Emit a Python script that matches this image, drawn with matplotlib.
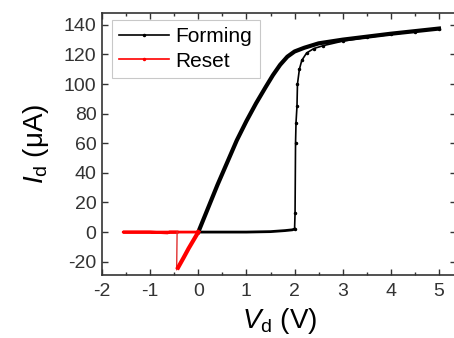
import matplotlib
matplotlib.use("Agg")
import matplotlib.pyplot as plt
from matplotlib.ticker import MultipleLocator

plt.rcParams['font.family'] = ['Liberation Sans', 'DejaVu Sans']
plt.rcParams['mathtext.fontset'] = 'custom'
plt.rcParams['mathtext.rm'] = 'Liberation Sans'
plt.rcParams['mathtext.it'] = 'Liberation Sans:italic'
plt.rcParams['axes.unicode_minus'] = False

# Forming sweep: forward 0 -> 5 V
form_fwd_v = [0.0, 0.5, 1.0, 1.5, 1.8, 1.95, 2.0, 2.01, 2.02, 2.03, 2.05, 2.06, 2.1, 2.15, 2.25, 2.4, 2.6, 3.0, 3.5, 4.0, 4.5, 5.0]
form_fwd_i = [0.0, 0.0, 0.0, 0.3, 1.0, 1.5, 2.0, 13.0, 60.0, 74.0, 85.0, 100.0, 110.0, 116.0, 121.0, 124.0, 126.0, 129.0, 131.5, 133.5, 135.5, 137.5]
# Forming sweep: backward 5 -> 0 V
form_bwd_v = [5.0, 4.0, 3.0, 2.5, 2.2, 2.0, 1.85, 1.7, 1.55, 1.4, 1.2, 1.0, 0.8, 0.6, 0.4, 0.2, 0.0]
form_bwd_i = [137.5, 134.0, 130.0, 127.5, 124.5, 122.0, 118.5, 113.0, 106.0, 98.0, 87.0, 75.0, 62.0, 47.0, 32.0, 16.0, 0.0]

# Reset sweep: 0 -> -0.45 V (negative current), jump, then to -1.5 V and back
reset_sweep_v = [0.0, -0.1, -0.2, -0.3, -0.42]
reset_sweep_i = [0.0, -5.5, -11.0, -17.0, -24.0]
reset_jump_v = [-0.42, -0.45, -0.44]
reset_jump_i = [-24.0, -25.5, 0.0]
reset_flat_v = [-0.44, -0.6, -0.64, -1.0, -1.56, -1.0, -0.5, 0.0]
reset_flat_i = [0.0, 0.0, -0.6, 0.0, 0.0, 0.0, 0.0, 0.0]

fig = plt.figure(figsize=(4.54, 3.38), dpi=100)
ax = fig.add_axes([0.2247, 0.1864, 0.78, 0.7751])

black = '#000000'
red = '#ff0000'

ax.plot(form_fwd_v[:7], form_fwd_i[:7], color=black, lw=2.0, zorder=3)
ax.plot(form_fwd_v[6:], form_fwd_i[6:], color=black, lw=1.2, marker='.', ms=3, zorder=3)
ax.plot(form_bwd_v, form_bwd_i, color=black, lw=3.0, zorder=3)
ax.plot([], [], color=black, lw=1.2, marker='.', ms=3, label='Forming')

ax.plot(reset_flat_v, reset_flat_i, color=red, lw=2.0, zorder=4)
ax.plot(reset_jump_v, reset_jump_i, color='#e03030', lw=1.0, zorder=4)
ax.plot(reset_sweep_v, reset_sweep_i, color=red, lw=3.0, zorder=4)
ax.plot([], [], color=red, lw=1.2, marker='.', ms=3, label='Reset')

ax.set_xlim(-2, 5.356)
ax.set_ylim(-29, 148)
ax.xaxis.set_major_locator(MultipleLocator(1))
ax.xaxis.set_minor_locator(MultipleLocator(0.5))
ax.yaxis.set_major_locator(MultipleLocator(20))

ax.tick_params(which='both', direction='in', top=True, right=True, colors='#333333',
               labelsize=14, width=1)
ax.tick_params(which='major', length=4.5)
ax.tick_params(which='minor', length=2.5)
ax.tick_params(axis='x', pad=6)
ax.tick_params(axis='y', pad=4)
for s in ax.spines.values():
    s.set_color('#333333')
    s.set_linewidth(1.2)

ax.set_xlabel(r'$V_\mathrm{d}$ (V)', fontsize=20, labelpad=4)
ax.set_ylabel(r'$I_\mathrm{d}$ ($\mathrm{\mu}$A)', fontsize=20, labelpad=9)

leg = ax.legend(loc='upper left', bbox_to_anchor=(0.028, 0.973), fontsize=15,
                frameon=True, fancybox=False, handlelength=2.4, borderpad=0.35,
                labelspacing=0.25, handletextpad=0.3, borderaxespad=0.0)
leg.get_frame().set_edgecolor('#bbbbbb')
leg.get_frame().set_linewidth(0.8)

fig.savefig('out.png', dpi=100)
